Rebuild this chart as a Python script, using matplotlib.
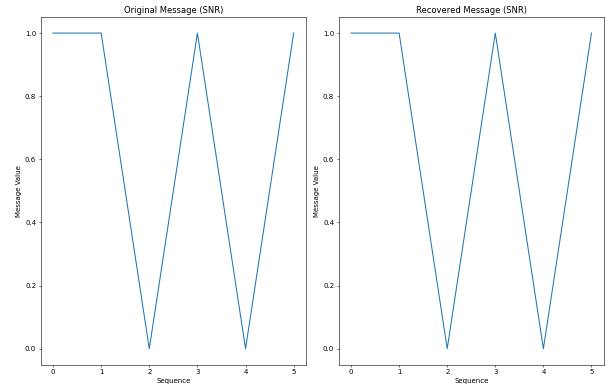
import matplotlib
matplotlib.use("Agg")
import matplotlib.pyplot as plt

sequence = [0, 1, 2, 3, 4, 5]
original_message = [1, 1, 0, 1, 0, 1]
recovered_message = [1, 1, 0, 1, 0, 1]

dpi = 50
fig = plt.figure(figsize=(609 / dpi, 390 / dpi), dpi=dpi)

W, H = 609.0, 390.0
ax1 = fig.add_axes([41 / W, 1 - 364.5 / H, (305.7 - 41) / W, (364.5 - 17.3) / H])
ax2 = fig.add_axes([339 / W, 1 - 364.5 / H, (603.5 - 339) / W, (364.5 - 17.3) / H])

for ax, data, title in [
    (ax1, original_message, "Original Message (SNR)"),
    (ax2, recovered_message, "Recovered Message (SNR)"),
]:
    ax.plot(sequence, data, color="#1f77b4")
    ax.set_title(title)
    ax.set_xlabel("Sequence")
    ax.set_ylabel("Message Value")

fig.savefig("out.png", dpi=dpi)
